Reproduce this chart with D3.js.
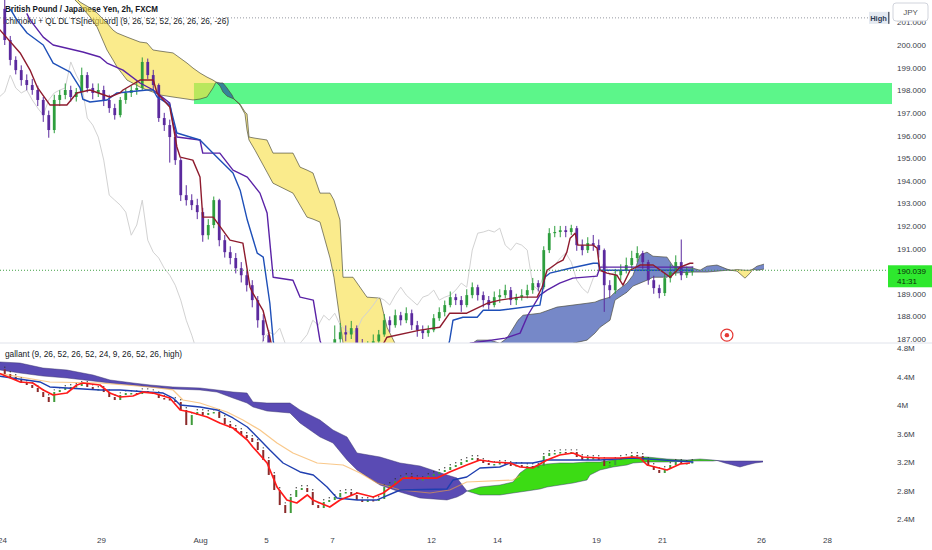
<!DOCTYPE html>
<html>
<head>
<meta charset="utf-8">
<script src="https://cdn.jsdelivr.net/npm/d3@7"></script>
<style>
  html, body { margin: 0; padding: 0; background: #fff; }
  svg { display: block; font-family: "Liberation Sans", Arial, sans-serif; }
</style>
</head>
<body>
<svg id="chart" width="932" height="550"></svg>
<script>
// ---- data (4h bars, bar 0 = Jul 24 00:00) ----
const dayLabels = ['24', '29', 'Aug', '5', '7', '12', '14', '19', '21', '26', '28'];
const dayBars = [0, 18, 36, 48, 60, 78, 90, 108, 120, 138, 150];

const priceTicks = [201, 200, 199, 198, 197, 196, 195, 194, 193, 192, 191, 189, 188, 187];
const lowerTicks = [4.8, 4.4, 4.0, 3.6, 3.2, 2.8, 2.4];

const firstOpen = 201.6;
const closes = [200.22, 199.34, 198.89, 198.45, 198.23, 198.01, 197.57, 196.90, 196.24, 197.57,
  197.79, 198.01, 197.70, 197.92, 198.67, 198.10, 197.88, 198.01, 197.57, 197.21,
  196.90, 197.57, 197.88, 198.01, 198.10, 199.25, 198.67, 198.23, 196.77, 196.46,
  195.93, 194.91, 193.36, 193.14, 192.92, 192.61, 191.59, 192.04, 193.14, 191.37,
  190.84, 190.58, 190.13, 189.82, 189.38, 188.72, 187.83, 187.17, 186.40, 185.80,
  185.00, 184.20, 182.50, 181.00, 180.50, 182.00, 184.00, 184.50, 185.50, 186.20,
  186.99, 187.30, 187.20, 187.48, 186.80, 186.50, 186.60, 186.90, 187.20, 187.83,
  187.61, 188.05, 187.83, 188.14, 187.61, 187.39, 187.26, 187.39, 187.92, 188.19,
  188.50, 188.85, 188.72, 188.50, 188.94, 189.29, 188.94, 188.72, 188.50, 188.85,
  188.94, 189.16, 188.72, 188.85, 188.94, 189.16, 189.47, 189.29, 190.93, 191.68,
  191.73, 191.81, 191.73, 191.90, 191.15, 190.93, 191.24, 191.15, 190.93, 189.38,
  189.16, 189.82, 190.04, 190.27, 190.58, 190.80, 190.40, 189.60, 189.25, 189.03,
  189.69, 189.96, 190.40, 189.82, 189.96, 190.04];
const highs = [202.2, 200.4, 199.5, 199.1, 198.7, 198.5, 198.2, 197.7, 197.1, 197.8,
  198.0, 198.3, 198.2, 198.1, 199.0, 198.8, 198.3, 198.3, 198.2, 197.8,
  197.4, 197.7, 198.1, 198.2, 198.4, 199.45, 199.4, 198.9, 198.3, 197.0,
  196.7, 196.1, 195.0, 193.8, 193.4, 193.2, 192.8, 192.3, 193.3, 193.2,
  191.6, 191.1, 190.8, 190.4, 190.0, 189.6, 188.9, 188.1, 187.4, 186.7,
  186.1, 185.3, 184.4, 182.8, 181.5, 182.4, 184.4, 185.0, 185.9, 186.6,
  187.6, 187.7, 187.6, 187.8, 187.6, 187.0, 186.9, 187.2, 187.4, 188.1,
  188.0, 188.3, 188.2, 188.4, 188.3, 187.8, 187.6, 187.6, 188.1, 188.4,
  188.7, 189.1, 189.0, 188.9, 189.2, 189.5, 189.4, 189.1, 188.9, 189.1,
  189.2, 189.4, 189.3, 189.0, 189.2, 189.4, 189.7, 189.6, 191.1, 191.9,
  192.0, 192.0, 192.0, 192.05, 192.0, 191.4, 191.5, 191.6, 191.4, 191.0,
  189.6, 190.1, 190.3, 190.6, 190.9, 191.1, 190.9, 190.5, 189.8, 189.4,
  189.9, 190.3, 190.7, 191.4, 190.2, 190.2];
const lows = [200.0, 199.1, 198.7, 198.2, 198.0, 197.8, 197.3, 196.6, 195.9, 196.1,
  197.3, 197.6, 197.5, 197.5, 197.8, 197.9, 197.6, 197.7, 197.3, 197.0,
  196.7, 196.8, 197.4, 197.7, 197.8, 198.0, 198.5, 198.0, 196.6, 196.2,
  194.8, 194.7, 193.1, 192.9, 192.7, 192.3, 191.3, 191.4, 191.9, 191.1,
  190.6, 190.3, 189.9, 189.5, 189.1, 188.4, 187.5, 186.9, 186.1, 185.4,
  184.6, 183.8, 182.0, 180.5, 180.0, 180.2, 181.8, 183.6, 184.2, 185.2,
  186.0, 186.8, 186.9, 187.0, 186.5, 186.2, 186.2, 186.4, 186.7, 187.1,
  187.3, 187.5, 187.6, 187.7, 187.4, 187.1, 187.0, 187.1, 187.3, 187.8,
  188.0, 188.4, 188.5, 188.2, 188.4, 188.8, 188.7, 188.4, 188.3, 188.4,
  188.6, 188.8, 188.5, 188.5, 188.7, 188.8, 189.0, 189.1, 189.2, 190.8,
  191.5, 191.5, 191.5, 191.6, 190.9, 190.7, 190.8, 190.9, 190.6, 188.2,
  188.8, 189.0, 189.6, 189.9, 190.1, 190.4, 190.1, 189.4, 189.0, 188.8,
  188.9, 189.5, 189.8, 189.6, 189.7, 189.8];

// upper indicator lines: [bar, price]
const tenkanUp = [[-1, 200.7], [2.8, 199.65], [4.6, 198.89], [5.9, 198.14], [8.2, 197.35], [11.3, 197.35],
  [13.1, 197.88], [15.5, 198.01], [19.1, 197.70], [20.95, 197.88], [21.5, 198.01], [24.6, 198.45],
  [27.0, 198.45], [27.7, 197.88], [30.0, 197.26], [31.3, 195.49], [31.9, 195.04], [34.2, 194.91],
  [35.5, 194.16], [36.0, 192.39], [37.9, 192.39], [40.95, 191.37], [43.3, 191.24], [44.6, 189.29],
  [45.1, 189.03], [46.95, 188.27], [48.2, 187.08], [49.1, 186.06], [53.7, 184.3], [62.8, 185.2],
  [68.2, 186.5], [69.5, 187.08], [75.5, 187.39], [79.1, 187.52], [80.9, 188.14], [84.0, 188.14],
  [87.7, 188.58], [90.0, 188.72], [93.7, 188.85], [96.8, 188.85], [97.7, 189.29], [98.6, 190.04],
  [100.4, 190.35], [101.5, 190.49], [102.2, 190.84], [102.8, 191.46], [103.7, 191.68], [104.2, 191.15],
  [107.0, 191.15], [107.7, 191.02], [108.2, 190.04], [109.5, 189.91], [111.3, 189.82], [112.4, 189.38],
  [113.7, 190.04], [115.5, 190.27], [117.9, 190.27], [119.7, 189.96], [121.0, 189.73], [122.8, 190.18],
  [124.6, 190.35], [125.2, 190.35]];
const kijunUp = [[1, 201.6], [2.2, 201.11], [4.05, 200.53], [7.0, 200.0], [8.8, 199.2], [11.9, 198.8],
  [13.7, 198.1], [14.2, 197.6], [15.5, 197.48], [18.6, 197.57], [20.4, 197.88], [25.9, 198.01],
  [27.0, 198.01], [27.7, 197.70], [30.0, 197.35], [31.3, 196.11], [35.5, 195.80], [38.6, 195.04],
  [41.5, 194.34], [42.8, 193.58], [44.1, 192.26], [45.9, 190.80], [47.0, 190.62], [48.2, 188.58],
  [48.8, 186.95], [50, 185.2], [62.8, 184.3], [79.1, 185.2], [80.9, 186.95], [81.5, 187.83],
  [83.3, 187.96], [85.9, 187.96], [87.0, 188.27], [90.0, 188.27], [97.3, 188.50], [98.2, 189.73],
  [99.1, 189.91], [102.8, 190.13], [107.0, 190.35], [107.9, 190.35], [108.2, 190.04], [125.2, 190.04]];
const slowUp = [[4.0, 201.4], [4.6, 201.11], [7.0, 200.35], [8.8, 200.0], [14.2, 199.69], [17.3, 199.47],
  [18.6, 199.20], [21.5, 198.89], [24.6, 198.32], [27.0, 198.01], [30.0, 197.43], [30.6, 196.55],
  [31.3, 195.93], [35.5, 195.80], [36.0, 195.22], [39.1, 195.22], [41.5, 194.47], [44.1, 194.16],
  [46.4, 193.45], [47.7, 192.57], [48.8, 189.73], [52.4, 189.60], [53.7, 188.85], [56.1, 188.72],
  [57.3, 186.95], [59.1, 185.6], [71.9, 185.2], [82.8, 186.1], [84.6, 186.81], [91.0, 187.04],
  [93.7, 187.26], [95.1, 188.05], [97.3, 188.94], [98.6, 189.16], [100.9, 189.47], [103.3, 189.69],
  [107.7, 189.78], [108.2, 190.18], [125.2, 190.18]];
const chikouShift = 13;

// upper cloud
const cloudBars = [11.86, 13.68, 15.5, 16.77, 18.59, 19.68, 20.41, 22.23, 24.59, 25.86, 26.95, 28.23,
  30.59, 33.14, 34.23, 35.5, 36.77, 37.86, 38.41, 39.14, 39.68, 40.41, 41.32, 41.68, 42.77, 43.68,
  44.05, 44.41, 45.5, 47.68, 48.77, 52.41, 53.68, 54.95, 56.05, 57.32, 59.14, 59.86, 60.95, 61.5,
  63.32, 65.86, 68.23, 69.5, 70.95, 73.68, 77.32, 80.95, 83.68, 84.59, 85.86, 88.23, 90.05, 91.32,
  93.32, 94.23, 97.32, 100.41, 103.32, 105.86, 107.32, 108.23, 110.05, 110.95, 113.14, 114.23, 115.5,
  116.77, 117.86, 120.41, 121.5, 125.14, 126.41, 127.68, 129.5, 131.32, 132.05, 133.14, 134.59,
  135.5, 136.05, 136.77, 138.05];
const cloudA = [202.21, 201.77, 201.24, 200.80, 199.78, 199.34, 199.03, 198.45, 198.14, 198.01, 197.92, 197.79,
  197.70, 197.61, 197.57, 197.61, 197.70, 198.10, 198.36, 198.32, 198.32, 198.10, 197.79, 197.61, 197.35, 196.95,
  196.24, 195.80, 195.35, 194.38, 193.89, 193.45, 192.92, 192.39, 192.30, 192.17, 190.58, 189.73, 187.83, 186.81,
  185.62, 184.51, 183.41, 182.52, 181.64, 181.19, 181.19, 185.62, 186.15, 186.73, 186.95, 186.95, 186.81, 187.04,
  187.83, 188.05, 188.14, 188.41, 188.50, 188.58, 188.63, 188.72, 188.85, 189.07, 189.47, 189.82, 190.71,
  190.84, 190.66, 190.62, 190.22, 190.13, 190.04, 190.22, 190.27, 190.09, 190.04, 190.00, 189.69,
  189.91, 190.09, 190.22, 190.31];
const cloudB = [202.35, 201.90, 201.64, 201.42, 200.97, 200.66, 200.53, 200.35, 200.13, 200.09, 199.78, 199.73,
  199.65, 199.20, 198.98, 198.76, 198.58, 198.45, 198.36, 198.19, 197.92, 197.74, 197.65, 197.61, 197.39, 197.04,
  196.95, 195.93, 195.88, 195.80, 195.22, 195.22, 194.60, 194.47, 194.34, 193.45, 193.45, 193.14, 192.26, 189.73,
  189.73, 188.85, 188.81, 187.52, 186.81, 186.06, 185.62, 186.06, 186.15, 186.06, 186.42, 186.42, 186.28, 186.28,
  186.28, 186.28, 186.28, 186.42, 186.81, 186.95, 187.26, 187.52, 187.83, 188.72, 189.07, 189.34, 189.47,
  189.60, 189.73, 189.73, 189.91, 189.96, 189.96, 189.96, 190.00, 190.04, 190.04, 190.07, 190.04,
  190.04, 190.09, 190.04, 190.09];

const zoneLow = 197.39, zoneHigh = 198.32, zoneStartBar = 34.4;
const highLine = 201.2;
const lastPrice = 190.039, countdown = '41:31';
const targetBar = 131.3, targetPrice = 187.17;

// lower pane ("gallant"), values in millions
const lowerFirstOpen = 4.50;
const lowerCloses = [4.435, 4.393, 4.351, 4.309, 4.281, 4.239, 4.182, 4.112, 4.042, 4.182,
  4.211, 4.239, 4.253, 4.267, 4.295, 4.253, 4.225, 4.225, 4.182, 4.112,
  4.070, 4.140, 4.168, 4.168, 4.154, 4.196, 4.182, 4.154, 4.098, 4.084,
  4.070, 4.042, 3.930, 3.719, 3.860, 3.902, 3.860, 3.888, 3.902, 3.818,
  3.733, 3.677, 3.635, 3.579, 3.537, 3.481, 3.368, 3.228, 3.018, 2.807,
  2.596, 2.484, 2.709, 2.807, 2.835, 2.779, 2.596, 2.554, 2.639, 2.667,
  2.709, 2.765, 2.779, 2.737, 2.667, 2.639, 2.667, 2.653, 2.681, 2.849,
  2.877, 2.933, 2.975, 3.004, 2.975, 2.947, 2.961, 3.004, 3.032, 3.060,
  3.088, 3.130, 3.158, 3.200, 3.228, 3.256, 3.214, 3.186, 3.158, 3.172,
  3.186, 3.172, 3.144, 3.158, 3.130, 3.144, 3.116, 3.144, 3.284, 3.326,
  3.326, 3.340, 3.326, 3.340, 3.270, 3.228, 3.256, 3.256, 3.228, 3.144,
  3.158, 3.228, 3.256, 3.270, 3.298, 3.284, 3.228, 3.144, 3.088, 3.046,
  3.102, 3.158, 3.200, 3.172, 3.186, 3.200];

const lowerRed = [[-1.5, 4.46], [2.8, 4.323], [5.1, 4.309], [7.0, 4.211], [8.8, 4.140], [11.3, 4.168],
  [13.1, 4.281], [14.2, 4.309], [17.3, 4.281], [19.1, 4.168], [21.0, 4.112], [23.3, 4.126], [25.1, 4.182],
  [27.0, 4.168], [30.0, 4.098], [31.9, 3.930], [33.7, 3.902], [36.8, 3.832], [39.1, 3.747], [41.5, 3.677],
  [44.1, 3.509], [45.1, 3.411], [47.7, 3.186], [49.5, 2.849], [51.3, 2.667], [53.1, 2.625], [55.0, 2.737],
  [56.0, 2.667], [57.3, 2.625], [59.1, 2.568], [60.95, 2.667], [64.1, 2.765], [67.0, 2.709], [68.8, 2.765],
  [71.3, 2.905], [72.4, 2.975], [76.0, 2.975], [78.6, 2.975], [80.9, 3.060], [84.0, 3.158], [86.4, 3.228],
  [88.8, 3.200], [91.9, 3.186], [93.7, 3.130], [96.0, 3.116], [98.6, 3.228], [100.9, 3.298], [103.3, 3.326],
  [105.1, 3.270], [108.2, 3.256], [111.9, 3.256], [114.2, 3.270], [115.5, 3.256], [116.8, 3.158],
  [120.4, 3.088], [122.8, 3.172], [124.6, 3.186]];
const lowerBlue = [[-1.5, 4.41], [6.4, 4.323], [8.2, 4.253], [11.3, 4.239], [17.3, 4.211], [21.0, 4.211],
  [25.9, 4.182], [28.8, 4.168], [30.6, 4.098], [31.9, 4.000], [35.5, 3.972], [38.6, 3.930], [41.5, 3.818],
  [44.1, 3.691], [45.9, 3.551], [48.2, 3.368], [50.6, 3.186], [53.7, 3.060], [56.1, 3.018], [58.6, 2.849],
  [60.4, 2.695], [64.1, 2.667], [67.7, 2.667], [71.9, 2.807], [80.4, 2.821], [81.5, 2.947], [84.0, 2.989],
  [86.4, 3.116], [90.0, 3.130], [91.9, 3.186], [96.0, 3.186], [98.6, 3.228], [108.2, 3.228], [114.2, 3.256],
  [125.2, 3.200]];
const lowerOrange = [[-1.5, 4.45], [8.2, 4.323], [17.3, 4.309], [26.4, 4.253], [30.6, 4.211], [32.4, 4.070],
  [35.5, 4.028], [40.4, 3.902], [43.3, 3.789], [46.4, 3.649], [49.5, 3.467], [52.4, 3.326], [56.8, 3.186],
  [61.5, 3.158], [64.6, 3.046], [67.7, 2.905], [71.9, 2.807], [77.3, 2.765], [80.9, 2.807], [84.0, 2.919],
  [92.4, 2.947], [93.7, 3.004]];

const lowerCloudBars = [-1.77, -0.86, 2.77, 6.95, 11.32, 16.05, 19.14, 23.32, 26.41, 30.59, 35.5, 38.59,
  41.5, 44.05, 45.14, 47.68, 51.86, 53.68, 57.32, 59.68, 62.23, 64.05, 68.23, 71.86, 75.5, 80.41, 82.23,
  83.32, 84.05, 86.41, 90.05, 92.41, 93.68, 94.95, 97.32, 98.59, 100.95, 103.32, 105.86, 106.41, 108.23,
  110.59, 113.14, 114.23, 116.77, 120.41, 124.05, 126.41, 128.77, 129.5, 130.95, 133.68, 134.95, 136.41,
  137.86];
const lowerCloudA = [4.505, 4.491, 4.449, 4.407, 4.379, 4.337, 4.309, 4.281, 4.253, 4.225, 4.211, 4.182,
  4.098, 4.028, 3.972, 3.916, 3.888, 3.747, 3.551, 3.467, 3.228, 3.088, 2.877, 2.779, 2.695, 2.667, 2.709,
  2.751, 2.793, 2.849, 2.877, 2.919, 3.046, 3.116, 3.158, 3.172, 3.186, 3.186, 3.200, 3.200, 3.200,
  3.228, 3.256, 3.270, 3.270, 3.242, 3.228, 3.242, 3.228, 3.221, 3.186, 3.130, 3.158, 3.186,
  3.200];
const lowerCloudB = [4.618, 4.604, 4.589, 4.519, 4.491, 4.421, 4.351, 4.309, 4.281, 4.253, 4.239, 4.211,
  4.182, 4.168, 4.042, 4.028, 4.028, 3.930, 3.789, 3.649, 3.551, 3.326, 3.270, 3.186, 3.144, 3.018, 2.975,
  2.863, 2.793, 2.737, 2.737, 2.765, 2.779, 2.793, 2.821, 2.849, 2.877, 2.905, 2.947, 3.018, 3.088,
  3.130, 3.158, 3.186, 3.200, 3.200, 3.214, 3.214, 3.214, 3.221, 3.214, 3.214, 3.214, 3.214,
  3.214];

// ---- layout ----
const plotW = 888;
const upperBottom = 343;
const lowerBottom = 527;
const svg = d3.select('#chart');
const defs = svg.append('defs');

const x = d3.scaleLinear().domain([0, 160]).range([4.75, 4.75 + 5.5 * 160]);
const yUp = d3.scaleLinear().domain([187, 200]).range([339, 45]);
const yLo = d3.scaleLinear().domain([2.4, 4.8]).range([519, 348]);

defs.append('clipPath').attr('id', 'clipUp').append('rect')
  .attr('x', 0).attr('y', 0).attr('width', plotW + 4).attr('height', upperBottom);
defs.append('clipPath').attr('id', 'clipLo').append('rect')
  .attr('x', 0).attr('y', upperBottom).attr('width', plotW).attr('height', lowerBottom - upperBottom);

function drawCloud(g, id, bars, spanA, spanB, yScale, bullFill, bearFill, opacity) {
  const pts = bars.map((b, i) => ({ b, a: spanA[i], s: spanB[i] }));
  defs.append('clipPath').attr('id', id + '-above').append('path')
    .attr('d', d3.area().x(d => x(d.b)).y0(-2000).y1(d => yScale(d.a))(pts));
  defs.append('clipPath').attr('id', id + '-below').append('path')
    .attr('d', d3.area().x(d => x(d.b)).y0(d => yScale(d.a)).y1(3000)(pts));
  // span A under span B -> bearish colour
  g.append('path').attr('clip-path', `url(#${id}-above)`)
    .attr('fill', bearFill).attr('fill-opacity', opacity)
    .attr('d', d3.area().x(d => x(d.b)).y0(d => yScale(d.s)).y1(3000)(pts));
  g.append('path').attr('clip-path', `url(#${id}-below)`)
    .attr('fill', bullFill).attr('fill-opacity', opacity)
    .attr('d', d3.area().x(d => x(d.b)).y0(-2000).y1(d => yScale(d.s))(pts));
  return pts;
}

function drawLine(g, pts, yScale, color, width, opacity) {
  g.append('path')
    .attr('fill', 'none')
    .attr('stroke', color)
    .attr('stroke-width', width)
    .attr('stroke-opacity', opacity || 1)
    .attr('stroke-linejoin', 'round')
    .attr('d', d3.line().x(d => x(d[0])).y(d => yScale(d[1]))(pts));
}

// ---- upper pane ----
const up = svg.append('g').attr('clip-path', 'url(#clipUp)');

up.append('text').attr('x', 5).attr('y', 12)
  .attr('font-size', 9.5).attr('font-weight', 700).attr('fill', '#131722')
  .attr('textLength', 153).attr('lengthAdjust', 'spacingAndGlyphs')
  .text('British Pound / Japanese Yen, 2h, FXCM');
up.append('text').attr('x', 3).attr('y', 24)
  .attr('font-size', 9.5).attr('fill', '#131722')
  .attr('textLength', 226).attr('lengthAdjust', 'spacingAndGlyphs')
  .text('Ichimoku + QL DL TS[netguard] (9, 26, 52, 52, 26, 26, 26, -26)');

up.append('line')
  .attr('x1', 0).attr('x2', 868)
  .attr('y1', yUp(highLine)).attr('y2', yUp(highLine))
  .attr('stroke', '#9598a1').attr('stroke-width', 1).attr('stroke-dasharray', '1,2');

up.append('rect')
  .attr('x', x(zoneStartBar)).attr('y', yUp(zoneHigh))
  .attr('width', plotW + 4 - x(zoneStartBar)).attr('height', yUp(zoneLow) - yUp(zoneHigh))
  .attr('fill', '#5cf68a');

const upCloud = drawCloud(up, 'upc', cloudBars, cloudA, cloudB, yUp, '#1b39a3', '#f7de3f', 0.6);
drawLine(up, upCloud.map(d => [d.b, d.a]), yUp, '#4a4a3a', 0.9, 0.75);
drawLine(up, upCloud.map(d => [d.b, d.s]), yUp, '#4a4a3a', 0.9, 0.75);

// lagging line = closes moved back
drawLine(up, closes.map((c, i) => [i - chikouShift, c]), yUp, '#d2d2d2', 1, 1);

const candles = closes.map((c, i) => ({
  i, o: i === 0 ? firstOpen : closes[i - 1], c, h: highs[i], l: lows[i]
}));
const cg = up.append('g');
cg.selectAll('.wick').data(candles).join('line')
  .attr('class', 'wick')
  .attr('x1', d => x(d.i)).attr('x2', d => x(d.i))
  .attr('y1', d => yUp(d.h)).attr('y2', d => yUp(d.l))
  .attr('stroke', d => d.c >= d.o ? '#2e9e3e' : '#5b2a9e').attr('stroke-width', 1);
cg.selectAll('.body').data(candles).join('rect')
  .attr('class', 'body')
  .attr('x', d => x(d.i) - 1.4).attr('width', 2.8)
  .attr('y', d => yUp(Math.max(d.o, d.c)))
  .attr('height', d => Math.max(1, Math.abs(yUp(d.o) - yUp(d.c))))
  .attr('fill', d => d.c >= d.o ? '#2e9e3e' : '#5b2a9e');

drawLine(up, slowUp, yUp, '#5a22a6', 1.4);
drawLine(up, kijunUp, yUp, '#1e4fb8', 1.4);
drawLine(up, tenkanUp, yUp, '#8e1b2e', 1.4);

up.append('line')
  .attr('x1', 0).attr('x2', plotW)
  .attr('y1', yUp(lastPrice)).attr('y2', yUp(lastPrice))
  .attr('stroke', '#43a047').attr('stroke-width', 1).attr('stroke-dasharray', '1,2');

up.append('circle')
  .attr('cx', x(targetBar)).attr('cy', yUp(targetPrice)).attr('r', 6)
  .attr('fill', '#fff').attr('stroke', '#e53935').attr('stroke-width', 1.2);
up.append('circle')
  .attr('cx', x(targetBar)).attr('cy', yUp(targetPrice)).attr('r', 2.2)
  .attr('fill', '#e53935');

// ---- lower pane ----
const lo = svg.append('g').attr('clip-path', 'url(#clipLo)');

lo.append('text').attr('x', 5).attr('y', 357)
  .attr('font-size', 9.5).attr('fill', '#131722')
  .attr('textLength', 177).attr('lengthAdjust', 'spacingAndGlyphs')
  .text('gallant (9, 26, 52, 26, 52, 24, 9, 26, 52, 26, high)');

const loCloud = drawCloud(lo, 'loc', lowerCloudBars, lowerCloudA, lowerCloudB, yLo, '#3cdc14', '#5a4bb4', 1);
drawLine(lo, loCloud.map(d => [d.b, d.a]), yLo, '#3b3470', 0.8, 0.6);
drawLine(lo, loCloud.map(d => [d.b, d.s]), yLo, '#3b3470', 0.8, 0.6);

const lowCandles = lowerCloses.map((c, i) => ({ i, o: i === 0 ? lowerFirstOpen : lowerCloses[i - 1], c }));
const lg = lo.append('g');
lg.selectAll('rect').data(lowCandles).join('rect')
  .attr('x', d => x(d.i) - 1).attr('width', 2)
  .attr('y', d => yLo(Math.max(d.o, d.c)))
  .attr('height', d => Math.max(1.5, Math.abs(yLo(d.o) - yLo(d.c))))
  .attr('fill', d => d.c >= d.o ? '#3f9b3a' : '#8b2a2a');
lg.selectAll('circle').data(lowCandles).join('circle')
  .attr('cx', d => x(d.i)).attr('cy', d => yLo(Math.max(d.o, d.c)) - 2.2)
  .attr('r', 0.7).attr('fill', '#333');

drawLine(lo, lowerOrange, yLo, '#f5a33c', 1.2, 0.6);
drawLine(lo, lowerBlue, yLo, '#1f3fb0', 1.4);
drawLine(lo, lowerRed, yLo, '#ff1a1a', 1.7);

// ---- axes ----
svg.append('line')
  .attr('x1', 0).attr('x2', 932).attr('y1', upperBottom).attr('y2', upperBottom)
  .attr('stroke', '#e0e3eb').attr('stroke-width', 1);

const yAxisUp = svg.append('g').attr('transform', `translate(${plotW},0)`)
  .call(d3.axisRight(yUp).tickValues(priceTicks).tickSize(0).tickPadding(9).tickFormat(d3.format('.3f')));
const yAxisLo = svg.append('g').attr('transform', `translate(${plotW},0)`)
  .call(d3.axisRight(yLo).tickValues(lowerTicks).tickSize(0).tickPadding(9).tickFormat(v => `${+v.toFixed(1)}M`));
const xAxis = svg.append('g').attr('transform', 'translate(0,537)')
  .call(d3.axisBottom(x).tickValues(dayBars.map(b => b - 0.5)).tickSize(0).tickPadding(0)
    .tickFormat((d, i) => dayLabels[i]));

[yAxisUp, yAxisLo, xAxis].forEach(a => {
  a.select('.domain').remove();
  a.attr('font-family', '"Liberation Sans", Arial, sans-serif').attr('font-size', 8);
  a.selectAll('text').attr('fill', '#3a3e48');
});

// last price label
const lp = yUp(lastPrice);
svg.append('rect').attr('x', plotW).attr('y', lp - 5).attr('width', 44).attr('height', 22).attr('fill', '#2ee82e');
svg.append('text').attr('x', 897).attr('y', lp + 4).attr('font-size', 8).attr('fill', '#0b2e0b').text(d3.format('.3f')(lastPrice));
svg.append('text').attr('x', 897).attr('y', lp + 14).attr('font-size', 8).attr('fill', '#0b2e0b').text(countdown);

// "High" tag and currency box
svg.append('rect').attr('x', 869).attr('y', yUp(highLine) - 6).attr('width', 19).attr('height', 12).attr('fill', '#e4e9f1');
svg.append('rect').attr('x', 888).attr('y', yUp(highLine) - 6).attr('width', 1.5).attr('height', 12).attr('fill', '#5d6473');
svg.append('text').attr('x', 878.5).attr('y', yUp(highLine) + 3).attr('text-anchor', 'middle')
  .attr('font-size', 7.5).attr('font-weight', 700).attr('fill', '#2d3a55').text('High');
svg.append('rect').attr('x', 893).attr('y', 3).attr('width', 35).attr('height', 18).attr('rx', 3)
  .attr('fill', '#fff').attr('stroke', '#d1d4dc');
svg.append('text').attr('x', 910.5).attr('y', 15).attr('text-anchor', 'middle')
  .attr('font-size', 8).attr('fill', '#555').text('JPY');
</script>
</body>
</html>
